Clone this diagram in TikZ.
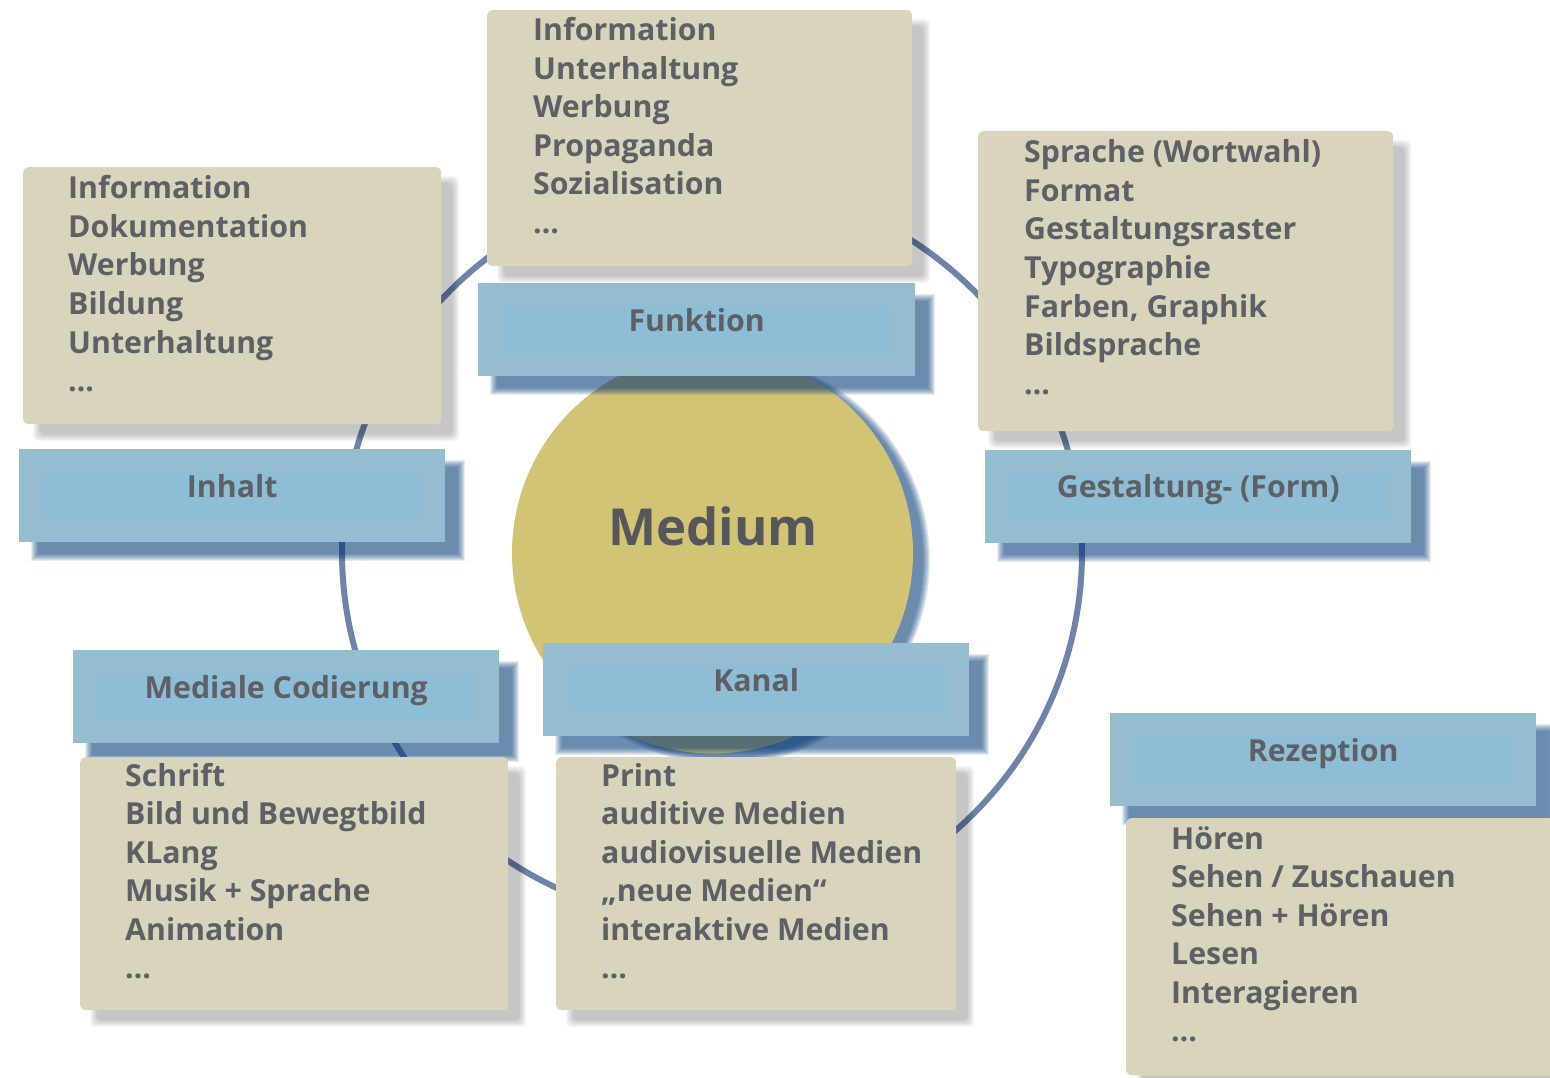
\documentclass[tikz,border=0pt]{standalone}
\usepackage{fontspec}
\setmainfont{Open Sans}
\usetikzlibrary{calc}
\pgfdeclarelayer{bg}
\pgfdeclarelayer{shad}
\pgfsetlayers{bg,shad,main}
\definecolor{beige}{HTML}{D9D5BD}
\definecolor{blueouter}{HTML}{94BECF}
\definecolor{blueinner}{HTML}{8EBDD6}
\definecolor{textgray}{HTML}{5E6066}
\definecolor{medgray}{HTML}{55575B}
\definecolor{circ}{HTML}{D3C374}
\definecolor{ringc}{HTML}{6F82AB}
\definecolor{shadblue}{HTML}{003774}
\tikzset{
  beigebox/.style={fill=beige, rounded corners=5pt, inner sep=0pt, anchor=north west},
  bluebox/.style={fill=blueouter, inner sep=0pt, anchor=north west, minimum height=93pt},
  listtext/.style={anchor=base west, inner sep=0pt, text=textgray, font=\bfseries\fontsize{30.3}{36}\selectfont},
  labeltext/.style={anchor=base, inner sep=0pt, text=textgray, font=\bfseries\fontsize{30.3}{36}\selectfont},
  grayshade/.style={fill=black, fill opacity=0.031, rounded corners=6pt},
  blueshade/.style={fill=shadblue, fill opacity=0.10},
  ringline/.style={draw=ringc, line width=6pt}
}
\newcommand\softshadow[4]{%
  \begin{pgfonlayer}{shad}
  \foreach \k in {0,...,7}{
    \path[#4] ($(#1.north west)+(#2-4+\k,#3-4+\k)$) rectangle ($(#1.south east)+(#2+4-\k,#3+4-\k)$);
  }
  \end{pgfonlayer}}
\newcommand\innerblue[1]{\fill[blueinner] ($(#1.north west)+(23,23)$) rectangle ($(#1.south east)+(-23,-23)$);}
\begin{document}
\begin{tikzpicture}[x=1pt,y=-1pt]
\useasboundingbox (0,0) rectangle (1550,1078);
% ring and central circle
\begin{pgfonlayer}{bg}
  \coordinate (ctr) at (712,552);
  \draw[ringline] (ctr) circle (370);
  \foreach \k in {0,...,7}{
    \fill[shadblue, fill opacity=0.10] ($(ctr)+(13,8)$) circle (205-\k);
  }
  \node[circle, fill=circ, minimum size=401pt, inner sep=0pt] (med) at (712.5,553) {};
\end{pgfonlayer}
\node[anchor=base, inner sep=0pt, text=medgray, font=\bfseries\fontsize{51}{60}\selectfont] (medt) at (713,545) {Medium};

% list boxes
\node[beigebox, minimum width=425pt, minimum height=256pt] (fl) at (487,10) {};
\node[beigebox, minimum width=418pt, minimum height=257pt] (il) at (23,167) {};
\node[beigebox, minimum width=415pt, minimum height=300pt] (gl) at (978,131) {};
\node[beigebox, minimum width=428pt, minimum height=253pt] (ml) at (80,757) {};
\node[beigebox, minimum width=400pt, minimum height=253pt] (kl) at (556,757) {};
\node[beigebox, minimum width=430pt, minimum height=257pt] (rl) at (1126,818) {};
\softshadow{fl}{14}{13}{grayshade}
\softshadow{il}{14}{13}{grayshade}
\softshadow{gl}{14}{13}{grayshade}
\softshadow{ml}{14}{13}{grayshade}
\softshadow{kl}{14}{13}{grayshade}
\softshadow{rl}{14}{13}{grayshade}

% label boxes
\node[bluebox, minimum width=437pt] (fb) at (478,283) {};
\node[bluebox, minimum width=426pt] (ib) at (19,449) {};
\node[bluebox, minimum width=426pt] (gb) at (985,450) {};
\node[bluebox, minimum width=426pt] (mb) at (73,650) {};
\node[bluebox, minimum width=426pt] (kb) at (543,643) {};
\node[bluebox, minimum width=426pt] (rb) at (1110,713) {};
\foreach \b in {fb,ib,gb,mb,kb,rb}{
  \softshadow{\b}{16}{15}{blueshade}
  \innerblue{\b}
}
\node[labeltext] (ft) at ($(fb.north)+(0,48)$) {Funktion};
\node[labeltext] (it) at ($(ib.north)+(0,48)$) {Inhalt};
\node[labeltext] (gt) at ($(gb.north)+(0,47)$) {Gestaltung- (Form)};
\node[labeltext] (mt) at ($(mb.north)+(0,48)$) {Mediale Codierung};
\node[labeltext] (kt) at ($(kb.north)+(0,48)$) {Kanal};
\node[labeltext] (rt) at ($(rb.north)+(0,48)$) {Rezeption};

% list texts
\foreach \t [count=\i from 0] in {Information,Unterhaltung,Werbung,Propaganda,Sozialisation,…}
  \node[listtext] (f\i) at (533,41+\i*38.5) {\t};
\foreach \t [count=\i from 0] in {Information,Dokumentation,Werbung,Bildung,Unterhaltung,…}
  \node[listtext] (i\i) at (68,199+\i*38.5) {\t};
\foreach \t [count=\i from 0] in {Sprache (Wortwahl),Format,Gestaltungsraster,Typographie,{Farben, Graphik},Bildsprache,…}
  \node[listtext] (g\i) at (1024,163+\i*38.5) {\t};
\foreach \t [count=\i from 0] in {Schrift,Bild und Bewegtbild,KLang,Musik + Sprache,Animation,…}
  \node[listtext] (m\i) at (125,786+\i*38.5) {\t};
\foreach \t [count=\i from 0] in {Print,auditive Medien,audiovisuelle Medien,„neue Medien“,interaktive Medien,…}
  \node[listtext] (k\i) at (601,786+\i*38.5) {\t};
\foreach \t [count=\i from 0] in {Hören,Sehen / Zuschauen,Sehen + Hören,Lesen,Interagieren,…}
  \node[listtext] (r\i) at (1171,849+\i*38.5) {\t};
\end{tikzpicture}
\end{document}
